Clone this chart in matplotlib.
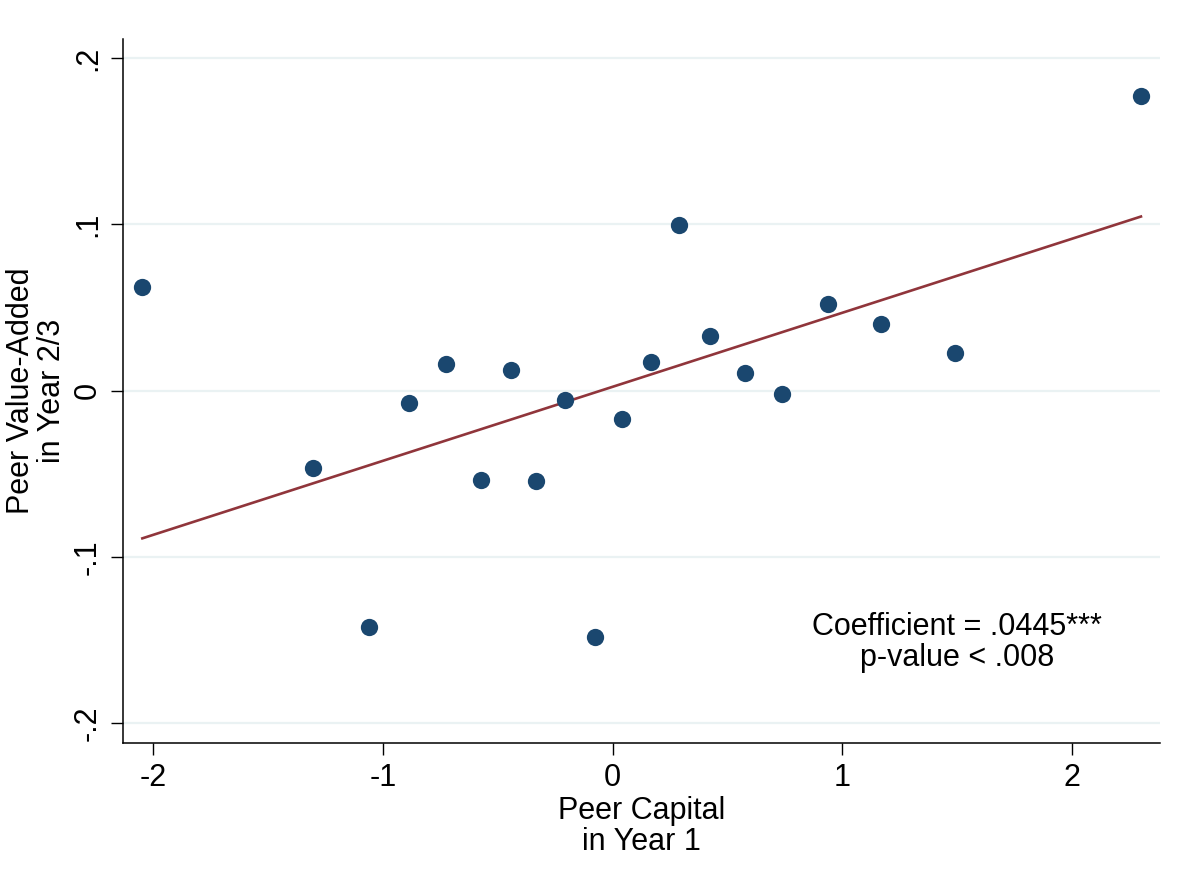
import matplotlib
matplotlib.use("Agg")
import matplotlib.pyplot as plt
import numpy as np

plt.rcParams['font.family'] = ['Liberation Sans', 'DejaVu Sans']

# Binned means: peer capital (year 1) vs peer value-added (years 2/3)
peer_capital = [-2.048, -1.303, -1.060, -0.888, -0.726, -0.572, -0.441, -0.335,
                -0.206, -0.076, 0.040, 0.168, 0.290, 0.425, 0.577, 0.735,
                0.936, 1.167, 1.490, 2.300]
peer_value_added = [0.0622, -0.0463, -0.1419, -0.0072, 0.0159, -0.0537, 0.0126,
                    -0.0543, -0.0056, -0.1479, -0.0172, 0.0173, 0.0996, 0.0327,
                    0.0106, -0.0022, 0.0520, 0.0399, 0.0228, 0.1774]

# Fitted regression line
slope = 0.0445
intercept = 0.0024

x_ticks = [-2, -1, 0, 1, 2]
x_tick_labels = ["-2", "-1", "0", "1", "2"]
y_ticks = [-0.2, -0.1, 0.0, 0.1, 0.2]
y_tick_labels = ["-.2", "-.1", "0", ".1", ".2"]

navy = "#1a476f"
maroon = "#90353b"
grid_col = "#eaf2f3"
fs = 22

fig = plt.figure(figsize=(11.82, 8.92), dpi=100)
ax = fig.add_axes([0.1041, 0.1670, 0.9814 - 0.1041, 0.9563 - 0.1670])

x = np.array(peer_capital)
y = np.array(peer_value_added)

for yt in y_ticks:
    ax.axhline(yt, color=grid_col, lw=1.6, zorder=0)

ax.scatter(x, y, s=155, color=navy, zorder=3, linewidths=0)
xf = np.array([x.min(), x.max()])
ax.plot(xf, intercept + slope * xf, color=maroon, lw=1.9, zorder=2)

ax.set_xlim(-2.132, 2.383)
ax.set_ylim(-0.2118, 0.2115)

ax.set_xticks(x_ticks)
ax.set_xticklabels(x_tick_labels)
ax.set_yticks(y_ticks)
ax.set_yticklabels(y_tick_labels, rotation=90, va="center")

ax.tick_params(axis="both", direction="out", length=8.6, width=1.0,
               labelsize=fs, pad=6, color="black")

for side in ["top", "right"]:
    ax.spines[side].set_visible(False)
for side in ["left", "bottom"]:
    ax.spines[side].set_linewidth(1.1)
    ax.spines[side].set_color("black")

ax.set_xlabel("Peer Capital\nin Year 1", fontsize=fs, labelpad=2, linespacing=1.05)
ax.set_ylabel("Peer Value-Added\nin Year 2/3", fontsize=fs, labelpad=4, linespacing=1.05)

ax.text(1.499, -0.1514, "Coefficient = .0445***\np-value < .008",
        ha="center", va="center", multialignment="center", fontsize=fs,
        linespacing=1.05)

fig.savefig("out.png", dpi=100, facecolor="white")
